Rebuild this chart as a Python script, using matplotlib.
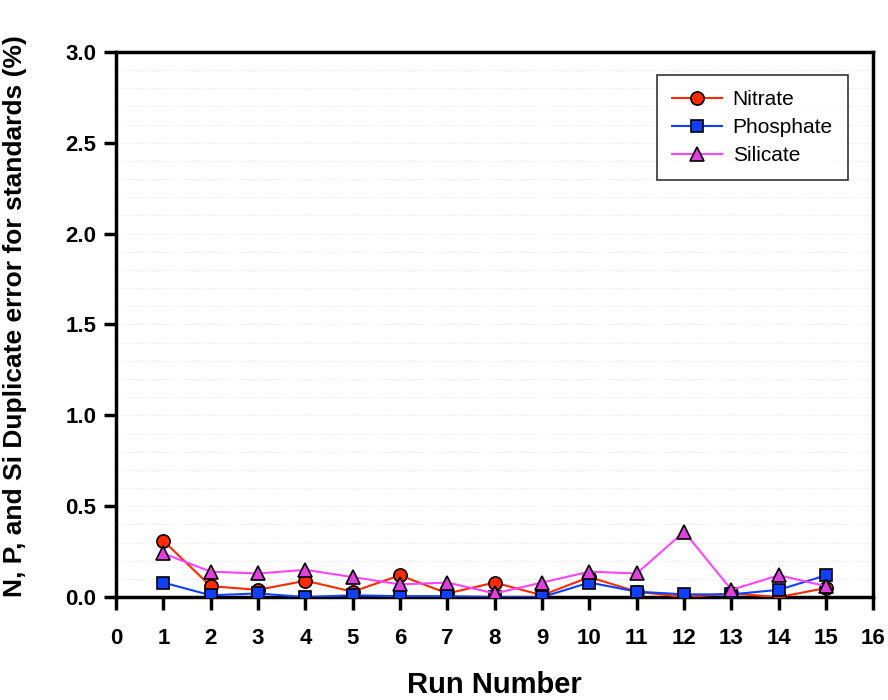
import numpy as np
import matplotlib
matplotlib.use('Agg')
import matplotlib.pyplot as plt

plt.rcParams['font.family'] = ['Liberation Sans', 'DejaVu Sans']

#===================== data ===================================================
runs = [1, 2, 3, 4, 5, 6, 7, 8, 9, 10, 11, 12, 13, 14, 15]
nitrate = [0.31, 0.06, 0.04, 0.09, 0.03, 0.12, 0.02, 0.08, 0.01, 0.11, 0.03,
           0.00, 0.02, 0.00, 0.05]
phosphate = [0.08, 0.01, 0.02, 0.00, 0.01, 0.005, 0.005, 0.00, 0.00, 0.08,
             0.03, 0.015, 0.015, 0.04, 0.12]
silicate = [0.24, 0.14, 0.13, 0.15, 0.11, 0.07, 0.08, 0.02, 0.08, 0.14, 0.13,
            0.36, 0.04, 0.12, 0.06]
xticks = list(range(0, 17))
yticks = [0.0, 0.5, 1.0, 1.5, 2.0, 2.5, 3.0]

#===================== plotting ===============================================
fig = plt.figure(figsize=(8.88, 7.0), dpi=100)
ax = fig.add_axes([0.1306, 0.147, 0.853, 0.779])

ax.plot(runs, nitrate, '-o', color='#ff2a00', mfc='#ff2a00', mec='black',
        mew=1.2, ms=9.5, lw=1.5, label='Nitrate', zorder=3)
ax.plot(runs, phosphate, '-s', color='#1040ff', mfc='#1040ff', mec='black',
        mew=1.2, ms=9, lw=1.5, label='Phosphate', zorder=3)
ax.plot(runs, silicate, '-^', color='#ff44ff', mfc='#e040e0', mec='black',
        mew=1.2, ms=10, lw=1.5, label='Silicate', zorder=3)

ax.set_xlim(0, 16)
ax.set_ylim(0, 3.0)
ax.set_xticks(xticks)
ax.set_yticks(yticks)
ax.set_yticklabels(['%.1f' % v for v in yticks])
ax.set_yticks(np.arange(0, 3.01, 0.1), minor=True)
ax.tick_params(axis='y', which='minor', length=0)
ax.grid(True, which='both', axis='y', color='#e4e4f0', ls=':', lw=0.8)
ax.set_axisbelow(True)

for s in ax.spines.values():
    s.set_linewidth(2.5)
ax.tick_params(axis='both', which='major', direction='out', length=9,
               width=2.5, labelsize=16, pad=5)
for lab in ax.get_xticklabels() + ax.get_yticklabels():
    lab.set_fontweight('bold')
ax.tick_params(axis='x', pad=13)

ax.set_xlabel('Run Number', fontsize=21, fontweight='bold', labelpad=16)
ax.set_ylabel('N, P, and Si Duplicate error for standards (%)', fontsize=19,
              fontweight='bold')
ax.yaxis.set_label_coords(-0.118, 0.516)

leg = ax.legend(loc='upper right', bbox_to_anchor=(0.967, 0.958), fontsize=15,
                frameon=True, fancybox=False, edgecolor='black',
                borderaxespad=0, handlelength=2.4, handletextpad=0.5,
                borderpad=0.75, labelspacing=0.42)
leg.get_frame().set_linewidth(1.2)

plt.savefig('out.png', dpi=100)
